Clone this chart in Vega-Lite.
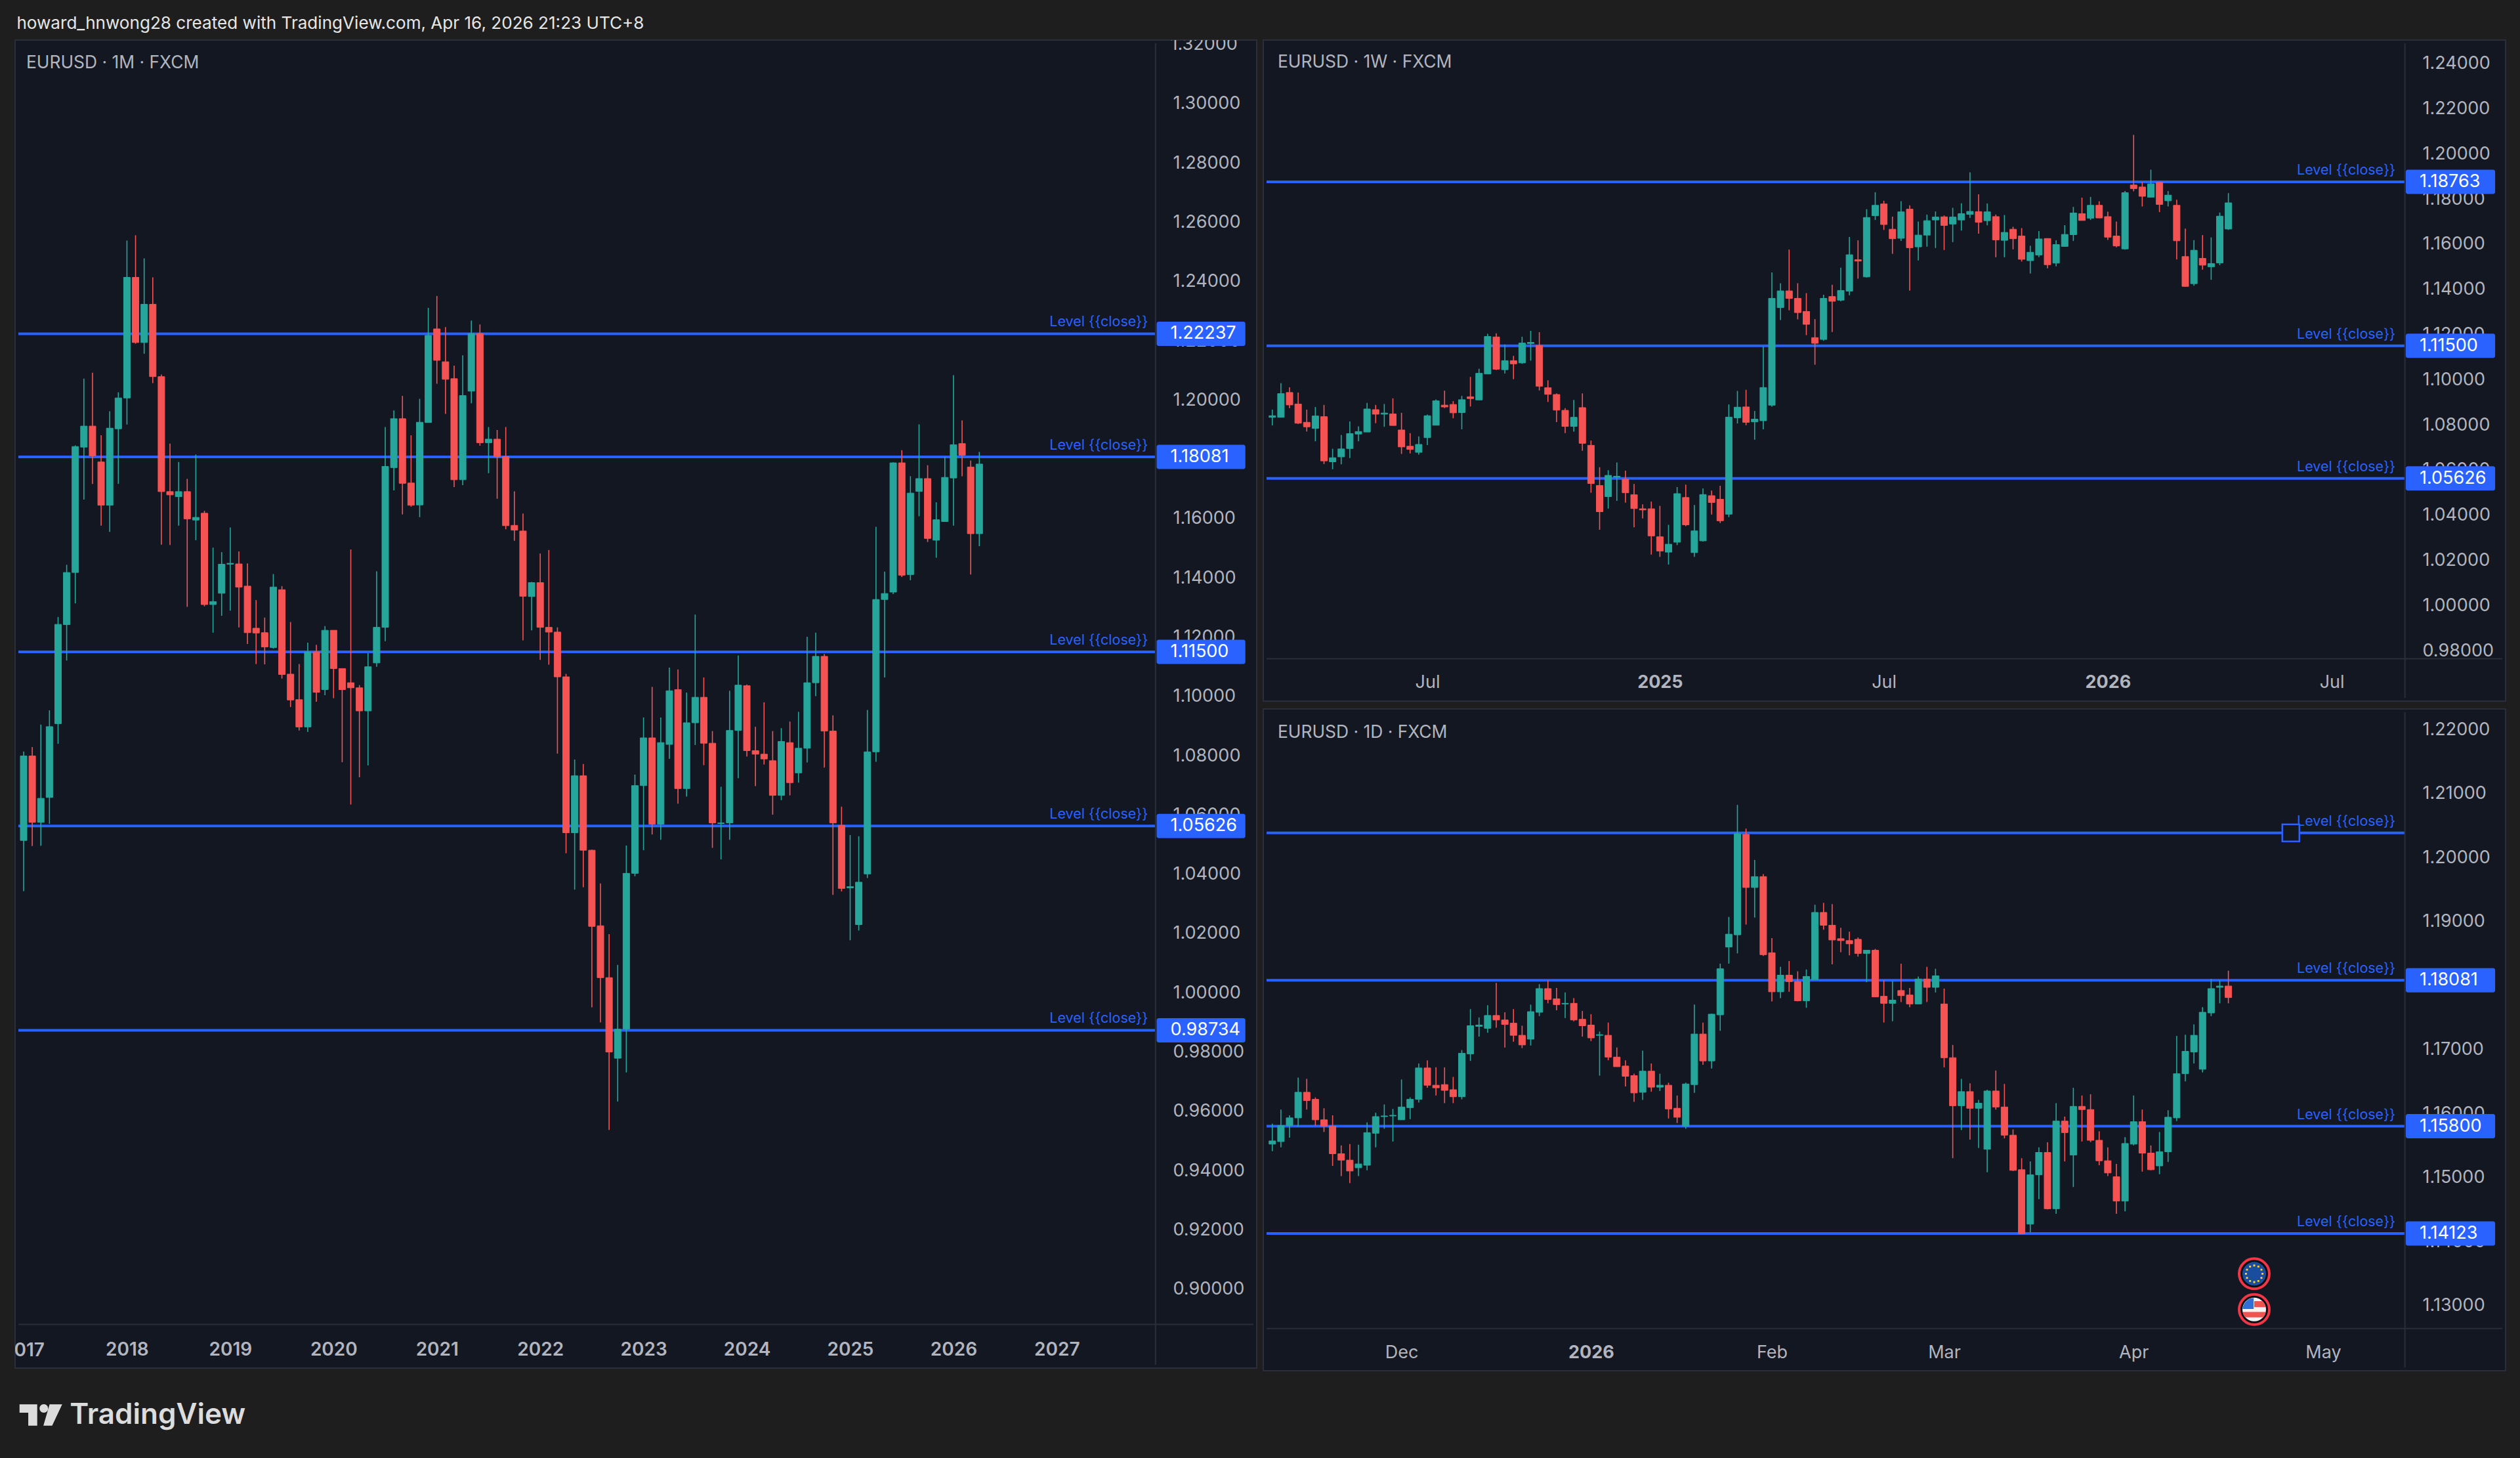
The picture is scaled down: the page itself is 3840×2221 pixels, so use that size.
{"$schema":"https://vega.github.io/schema/vega-lite/v6.json","background":"#1e1e1e","padding":{"left":22,"top":22,"right":22,"bottom":42},"bounds":"flush","spacing":10,
"config":{"view":{"fill":"#131722","stroke":"#2a2e39","strokeWidth":2},"axis":{"labelFont":"Inter","labelFontSize":27,"labelColor":"#b2b5be","domain":false,"ticks":false,"grid":false,"labelOverlap":false,"labelBound":false,"labelFlush":false}},
"datasets":{"one":[{}],
"lv1":[{"p":1.22237,"label":"Level {{close}}","tag":"1.22237"},{"p":1.18081,"label":"Level {{close}}","tag":"1.18081"},{"p":1.115,"label":"Level {{close}}","tag":"1.11500"},{"p":1.05626,"label":"Level {{close}}","tag":"1.05626"},{"p":0.98734,"label":"Level {{close}}","tag":"0.98734"}],
"lv2":[{"p":1.18763,"label":"Level {{close}}","tag":"1.18763"},{"p":1.115,"label":"Level {{close}}","tag":"1.11500"},{"p":1.05626,"label":"Level {{close}}","tag":"1.05626"}],
"lv3":[{"p":1.20384,"label":"Level {{close}}"},{"p":1.18081,"label":"Level {{close}}","tag":"1.18081"},{"p":1.158,"label":"Level {{close}}","tag":"1.15800"},{"p":1.14123,"label":"Level {{close}}","tag":"1.14123"}],
"m":[
{"i":0,"o":1.0514,"h":1.0814,"l":1.0343,"c":1.0799},{"i":1,"o":1.0799,"h":1.0829,"l":1.0495,"c":1.0575},{"i":2,"o":1.0575,"h":1.0905,"l":1.0496,"c":1.0656},{"i":3,"o":1.0659,"h":1.0953,"l":1.057,"c":1.0898},{"i":4,"o":1.0908,"h":1.1268,"l":1.084,"c":1.1243},{"i":5,"o":1.1242,"h":1.1444,"l":1.1121,"c":1.1418},{"i":6,"o":1.1418,"h":1.1847,"l":1.1314,"c":1.1843},{"i":7,"o":1.1841,"h":1.2072,"l":1.1664,"c":1.1912},{"i":8,"o":1.1912,"h":1.2092,"l":1.1717,"c":1.1812},{"i":9,"o":1.1791,"h":1.1881,"l":1.1576,"c":1.1645},{"i":10,"o":1.1645,"h":1.1962,"l":1.1555,"c":1.1905},{"i":11,"o":1.1903,"h":1.2026,"l":1.1717,"c":1.2007},
{"i":12,"o":1.2007,"h":1.2538,"l":1.1917,"c":1.2414},{"i":13,"o":1.2414,"h":1.2556,"l":1.219,"c":1.2194},{"i":14,"o":1.2194,"h":1.2478,"l":1.2156,"c":1.2323},{"i":15,"o":1.2323,"h":1.2414,"l":1.2057,"c":1.2079},{"i":16,"o":1.2079,"h":1.2086,"l":1.1512,"c":1.1691},{"i":17,"o":1.1691,"h":1.1853,"l":1.1511,"c":1.168},{"i":18,"o":1.1674,"h":1.1791,"l":1.1576,"c":1.1691},{"i":19,"o":1.1691,"h":1.1734,"l":1.1302,"c":1.1599},{"i":20,"o":1.1595,"h":1.1816,"l":1.1527,"c":1.1604},{"i":21,"o":1.1618,"h":1.1626,"l":1.1304,"c":1.131},{"i":22,"o":1.131,"h":1.1502,"l":1.1215,"c":1.132},{"i":23,"o":1.1348,"h":1.1487,"l":1.1272,"c":1.1446},
{"i":24,"o":1.1446,"h":1.157,"l":1.1289,"c":1.1449},{"i":25,"o":1.1447,"h":1.1489,"l":1.1233,"c":1.1369},{"i":26,"o":1.1372,"h":1.1449,"l":1.1177,"c":1.1215},{"i":27,"o":1.123,"h":1.1325,"l":1.1109,"c":1.1214},{"i":28,"o":1.1215,"h":1.1266,"l":1.1108,"c":1.1167},{"i":29,"o":1.1165,"h":1.1413,"l":1.1161,"c":1.1369},{"i":30,"o":1.136,"h":1.1372,"l":1.106,"c":1.1074},{"i":31,"o":1.1075,"h":1.1251,"l":1.0964,"c":1.0988},{"i":32,"o":1.0989,"h":1.1109,"l":1.0885,"c":1.0897},{"i":33,"o":1.0897,"h":1.1181,"l":1.088,"c":1.115},{"i":34,"o":1.115,"h":1.1174,"l":1.0982,"c":1.1014},{"i":35,"o":1.1023,"h":1.1237,"l":1.1004,"c":1.1223},
{"i":36,"o":1.1223,"h":1.1223,"l":1.0994,"c":1.1094},{"i":37,"o":1.1094,"h":1.1094,"l":1.0778,"c":1.1023},{"i":38,"o":1.1046,"h":1.1496,"l":1.0635,"c":1.1029},{"i":39,"o":1.1029,"h":1.1038,"l":1.0727,"c":1.0951},{"i":40,"o":1.0951,"h":1.1146,"l":1.0767,"c":1.11},{"i":41,"o":1.1113,"h":1.1422,"l":1.11,"c":1.1233},{"i":42,"o":1.1233,"h":1.1909,"l":1.1186,"c":1.1776},{"i":43,"o":1.1772,"h":1.1965,"l":1.1695,"c":1.1937},{"i":44,"o":1.1937,"h":1.2014,"l":1.1614,"c":1.1719},{"i":45,"o":1.172,"h":1.1881,"l":1.164,"c":1.1645},{"i":46,"o":1.1646,"h":1.2004,"l":1.1605,"c":1.1925},{"i":47,"o":1.1924,"h":1.2311,"l":1.1924,"c":1.2218},
{"i":48,"o":1.224,"h":1.2351,"l":1.2055,"c":1.2134},{"i":49,"o":1.2129,"h":1.2246,"l":1.1953,"c":1.207},{"i":50,"o":1.2072,"h":1.2116,"l":1.1706,"c":1.1731},{"i":51,"o":1.1731,"h":1.2151,"l":1.1713,"c":1.2015},{"i":52,"o":1.203,"h":1.2268,"l":1.1989,"c":1.2224},{"i":53,"o":1.2224,"h":1.2255,"l":1.1846,"c":1.1856},{"i":54,"o":1.1856,"h":1.1909,"l":1.1753,"c":1.1868},{"i":55,"o":1.1868,"h":1.1899,"l":1.1667,"c":1.1809},{"i":56,"o":1.1809,"h":1.1909,"l":1.1564,"c":1.1576},{"i":57,"o":1.1577,"h":1.1692,"l":1.1525,"c":1.1561},{"i":58,"o":1.1558,"h":1.1617,"l":1.1189,"c":1.1338},{"i":59,"o":1.1337,"h":1.1386,"l":1.1223,"c":1.1384},
{"i":60,"o":1.1384,"h":1.1482,"l":1.1123,"c":1.1233},{"i":61,"o":1.1233,"h":1.1494,"l":1.1107,"c":1.1217},{"i":62,"o":1.1217,"h":1.1233,"l":1.0807,"c":1.1066},{"i":63,"o":1.1066,"h":1.1076,"l":1.0471,"c":1.054},{"i":64,"o":1.054,"h":1.0787,"l":1.0348,"c":1.0732},{"i":65,"o":1.0732,"h":1.0772,"l":1.0356,"c":1.0481},{"i":66,"o":1.0481,"h":1.0483,"l":0.9951,"c":1.0224},{"i":67,"o":1.0226,"h":1.0369,"l":0.99,"c":1.0051},{"i":68,"o":1.0051,"h":1.0198,"l":0.9537,"c":0.98},{"i":69,"o":0.9779,"h":1.0094,"l":0.9633,"c":0.9877},{"i":70,"o":0.9877,"h":1.0497,"l":0.9731,"c":1.0403},{"i":71,"o":1.0403,"h":1.0736,"l":1.0393,"c":1.0699},
{"i":72,"o":1.0699,"h":1.0929,"l":1.0481,"c":1.086},{"i":73,"o":1.086,"h":1.1032,"l":1.0534,"c":1.0569},{"i":74,"o":1.0569,"h":1.0929,"l":1.0516,"c":1.0844},{"i":75,"o":1.0838,"h":1.1097,"l":1.0789,"c":1.1019},{"i":76,"o":1.1023,"h":1.1091,"l":1.0638,"c":1.0689},{"i":77,"o":1.0689,"h":1.1013,"l":1.0662,"c":1.0911},{"i":78,"o":1.0911,"h":1.1276,"l":1.0836,"c":1.0997},{"i":79,"o":1.0997,"h":1.1064,"l":1.0768,"c":1.0842},{"i":80,"o":1.0842,"h":1.0883,"l":1.0489,"c":1.0573},{"i":81,"o":1.0571,"h":1.0695,"l":1.045,"c":1.0573},{"i":82,"o":1.0573,"h":1.1019,"l":1.0516,"c":1.0885},{"i":83,"o":1.0885,"h":1.1138,"l":1.0724,"c":1.1038},
{"i":84,"o":1.1036,"h":1.104,"l":1.0797,"c":1.0817},{"i":85,"o":1.0817,"h":1.0897,"l":1.0697,"c":1.0805},{"i":86,"o":1.0805,"h":1.098,"l":1.077,"c":1.0789},{"i":87,"o":1.0783,"h":1.0883,"l":1.0601,"c":1.0666},{"i":88,"o":1.0666,"h":1.0893,"l":1.065,"c":1.0848},{"i":89,"o":1.0844,"h":1.0915,"l":1.0666,"c":1.0709},{"i":90,"o":1.0742,"h":1.0948,"l":1.0709,"c":1.0825},{"i":91,"o":1.0825,"h":1.1201,"l":1.0777,"c":1.1046},{"i":92,"o":1.1046,"h":1.1215,"l":1.1001,"c":1.1135},{"i":93,"o":1.1135,"h":1.1143,"l":1.076,"c":1.0883},{"i":94,"o":1.0883,"h":1.0936,"l":1.033,"c":1.0573},{"i":95,"o":1.0565,"h":1.0628,"l":1.0342,"c":1.0352},
{"i":96,"o":1.0354,"h":1.0532,"l":1.0177,"c":1.0358},{"i":97,"o":1.023,"h":1.0528,"l":1.021,"c":1.0373},{"i":98,"o":1.0401,"h":1.0954,"l":1.0387,"c":1.0813},{"i":99,"o":1.0813,"h":1.1572,"l":1.0779,"c":1.1327},{"i":100,"o":1.1327,"h":1.1421,"l":1.1064,"c":1.1347},{"i":101,"o":1.1352,"h":1.179,"l":1.1345,"c":1.1788},{"i":102,"o":1.1788,"h":1.1831,"l":1.1403,"c":1.1409},{"i":103,"o":1.1411,"h":1.1743,"l":1.1392,"c":1.1686},{"i":104,"o":1.1692,"h":1.1918,"l":1.1608,"c":1.1735},{"i":105,"o":1.1735,"h":1.178,"l":1.1521,"c":1.1533},{"i":106,"o":1.1527,"h":1.1655,"l":1.1468,"c":1.1596},{"i":107,"o":1.159,"h":1.1808,"l":1.159,"c":1.1739},
{"i":108,"o":1.1737,"h":1.2084,"l":1.1576,"c":1.1849},{"i":109,"o":1.1853,"h":1.1931,"l":1.1743,"c":1.1814},{"i":110,"o":1.1774,"h":1.1796,"l":1.1411,"c":1.1549},{"i":111,"o":1.1549,"h":1.1825,"l":1.1507,"c":1.1784}],
"w":[
{"i":0,"o":1.0833,"h":1.0867,"l":1.0797,"c":1.084},{"i":1,"o":1.0833,"h":1.0984,"l":1.0833,"c":1.0938},{"i":2,"o":1.0943,"h":1.0966,"l":1.0874,"c":1.0888},{"i":3,"o":1.0892,"h":1.0943,"l":1.0804,"c":1.0807},{"i":4,"o":1.0811,"h":1.0867,"l":1.077,"c":1.0791},{"i":5,"o":1.0784,"h":1.0879,"l":1.0727,"c":1.0839},{"i":6,"o":1.0836,"h":1.0888,"l":1.0626,"c":1.064},{"i":7,"o":1.0636,"h":1.0694,"l":1.0603,"c":1.0654},{"i":8,"o":1.0658,"h":1.0755,"l":1.0625,"c":1.0693},{"i":9,"o":1.0695,"h":1.0815,"l":1.0653,"c":1.0761},{"i":10,"o":1.0759,"h":1.0793,"l":1.0727,"c":1.077},{"i":11,"o":1.0768,"h":1.0897,"l":1.0768,"c":1.087},{"i":12,"o":1.0867,"h":1.0888,"l":1.0807,"c":1.0847},{"i":13,"o":1.0847,"h":1.0892,"l":1.0791,"c":1.0852},{"i":14,"o":1.0848,"h":1.0917,"l":1.0797,"c":1.0797},{"i":15,"o":1.0777,"h":1.0853,"l":1.0671,"c":1.0702},{"i":16,"o":1.0705,"h":1.0763,"l":1.0673,"c":1.0691},{"i":17,"o":1.0678,"h":1.0749,"l":1.0668,"c":1.0713},{"i":18,"o":1.0743,"h":1.0845,"l":1.071,"c":1.084},{"i":19,"o":1.0798,"h":1.0912,"l":1.0798,"c":1.0906},
{"i":20,"o":1.0887,"h":1.0951,"l":1.0874,"c":1.0879},{"i":21,"o":1.089,"h":1.0905,"l":1.0829,"c":1.0853},{"i":22,"o":1.0854,"h":1.0928,"l":1.078,"c":1.0911},{"i":23,"o":1.0924,"h":1.1012,"l":1.0881,"c":1.0916},{"i":24,"o":1.091,"h":1.1048,"l":1.091,"c":1.1028},{"i":25,"o":1.1025,"h":1.1203,"l":1.1024,"c":1.1191},{"i":26,"o":1.1189,"h":1.1205,"l":1.1042,"c":1.1046},{"i":27,"o":1.1044,"h":1.1156,"l":1.1027,"c":1.1084},{"i":28,"o":1.1084,"h":1.1105,"l":1.1002,"c":1.107},{"i":29,"o":1.1074,"h":1.119,"l":1.107,"c":1.1162},{"i":30,"o":1.116,"h":1.1216,"l":1.1084,"c":1.1165},{"i":31,"o":1.1151,"h":1.121,"l":1.0952,"c":1.0971},{"i":32,"o":1.0964,"h":1.0997,"l":1.0901,"c":1.0935},{"i":33,"o":1.0934,"h":1.0939,"l":1.0812,"c":1.0865},{"i":34,"o":1.0864,"h":1.0874,"l":1.0763,"c":1.0793},{"i":35,"o":1.0793,"h":1.091,"l":1.077,"c":1.0833},{"i":36,"o":1.0876,"h":1.0939,"l":1.0685,"c":1.0718},{"i":37,"o":1.0709,"h":1.073,"l":1.0499,"c":1.054},{"i":38,"o":1.0531,"h":1.0612,"l":1.0335,"c":1.0415},{"i":39,"o":1.0482,"h":1.0599,"l":1.0429,"c":1.0576},
{"i":40,"o":1.0568,"h":1.0633,"l":1.0463,"c":1.0572},{"i":41,"o":1.0559,"h":1.0597,"l":1.0455,"c":1.0499},{"i":42,"o":1.049,"h":1.0538,"l":1.0346,"c":1.0429},{"i":43,"o":1.0428,"h":1.0448,"l":1.0385,"c":1.0423},{"i":44,"o":1.0428,"h":1.046,"l":1.0225,"c":1.0308},{"i":45,"o":1.0304,"h":1.0441,"l":1.0215,"c":1.0241},{"i":46,"o":1.0236,"h":1.0357,"l":1.0181,"c":1.0271},{"i":47,"o":1.028,"h":1.0524,"l":1.0267,"c":1.0495},{"i":48,"o":1.0478,"h":1.0535,"l":1.0351,"c":1.0357},{"i":49,"o":1.0234,"h":1.0445,"l":1.0215,"c":1.033},{"i":50,"o":1.0286,"h":1.0518,"l":1.0283,"c":1.0491},{"i":51,"o":1.0486,"h":1.0509,"l":1.0403,"c":1.0456},{"i":52,"o":1.047,"h":1.053,"l":1.0365,"c":1.0375},{"i":53,"o":1.0404,"h":1.089,"l":1.0391,"c":1.0834},{"i":54,"o":1.0831,"h":1.095,"l":1.0806,"c":1.0878},{"i":55,"o":1.0879,"h":1.0955,"l":1.0798,"c":1.0811},{"i":56,"o":1.0813,"h":1.0861,"l":1.0734,"c":1.0825},{"i":57,"o":1.0818,"h":1.1147,"l":1.078,"c":1.0965},{"i":58,"o":1.0887,"h":1.1475,"l":1.088,"c":1.136},{"i":59,"o":1.1319,"h":1.1427,"l":1.1264,"c":1.1393},
{"i":60,"o":1.1393,"h":1.1576,"l":1.1307,"c":1.136},{"i":61,"o":1.136,"h":1.1427,"l":1.1267,"c":1.1297},{"i":62,"o":1.1302,"h":1.1383,"l":1.1197,"c":1.1245},{"i":63,"o":1.1186,"h":1.1268,"l":1.1066,"c":1.1161},{"i":64,"o":1.1178,"h":1.1376,"l":1.1172,"c":1.136},{"i":65,"o":1.1368,"h":1.142,"l":1.1211,"c":1.1347},{"i":66,"o":1.1352,"h":1.1496,"l":1.1347,"c":1.1395},{"i":67,"o":1.1392,"h":1.1632,"l":1.1374,"c":1.1553},{"i":68,"o":1.1531,"h":1.1617,"l":1.1447,"c":1.1525},{"i":69,"o":1.1455,"h":1.1755,"l":1.1452,"c":1.1718},{"i":70,"o":1.1726,"h":1.183,"l":1.1707,"c":1.1772},{"i":71,"o":1.1778,"h":1.1792,"l":1.1663,"c":1.1687},{"i":72,"o":1.1666,"h":1.1722,"l":1.1557,"c":1.1624},{"i":73,"o":1.1626,"h":1.179,"l":1.1614,"c":1.1743},{"i":74,"o":1.1755,"h":1.1772,"l":1.1394,"c":1.1584},{"i":75,"o":1.1588,"h":1.17,"l":1.1528,"c":1.164},{"i":76,"o":1.164,"h":1.1731,"l":1.1589,"c":1.1704},{"i":77,"o":1.1707,"h":1.1745,"l":1.1583,"c":1.172},{"i":78,"o":1.1721,"h":1.1727,"l":1.1574,"c":1.1683},{"i":79,"o":1.1689,"h":1.1761,"l":1.1609,"c":1.172},
{"i":80,"o":1.1707,"h":1.1781,"l":1.166,"c":1.1735},{"i":81,"o":1.1732,"h":1.1918,"l":1.1716,"c":1.1745},{"i":82,"o":1.1744,"h":1.1821,"l":1.1646,"c":1.1697},{"i":83,"o":1.1704,"h":1.178,"l":1.1683,"c":1.1743},{"i":84,"o":1.1722,"h":1.1731,"l":1.1542,"c":1.1619},{"i":85,"o":1.1617,"h":1.1729,"l":1.1542,"c":1.1652},{"i":86,"o":1.1666,"h":1.1677,"l":1.1577,"c":1.1624},{"i":87,"o":1.1636,"h":1.1671,"l":1.1523,"c":1.1533},{"i":88,"o":1.1527,"h":1.1593,"l":1.147,"c":1.1564},{"i":89,"o":1.1552,"h":1.1658,"l":1.1542,"c":1.1623},{"i":90,"o":1.1625,"h":1.1625,"l":1.1493,"c":1.1509},{"i":91,"o":1.1516,"h":1.1617,"l":1.1502,"c":1.1598},{"i":92,"o":1.159,"h":1.1684,"l":1.1589,"c":1.1643},{"i":93,"o":1.1642,"h":1.1765,"l":1.1614,"c":1.1738},{"i":94,"o":1.1735,"h":1.1806,"l":1.1704,"c":1.1705},{"i":95,"o":1.1715,"h":1.1809,"l":1.1707,"c":1.1772},{"i":96,"o":1.1772,"h":1.179,"l":1.1715,"c":1.1716},{"i":97,"o":1.1722,"h":1.1744,"l":1.1619,"c":1.1631},{"i":98,"o":1.1636,"h":1.17,"l":1.1586,"c":1.1592},{"i":99,"o":1.1579,"h":1.1835,"l":1.1576,"c":1.1828},
{"i":100,"o":1.1862,"h":1.2084,"l":1.1834,"c":1.1846},{"i":101,"o":1.1853,"h":1.1876,"l":1.1767,"c":1.1812},{"i":102,"o":1.1808,"h":1.193,"l":1.1808,"c":1.1867},{"i":103,"o":1.1874,"h":1.1877,"l":1.1742,"c":1.1776},{"i":104,"o":1.1792,"h":1.1835,"l":1.1767,"c":1.1817},{"i":105,"o":1.1772,"h":1.1797,"l":1.1532,"c":1.1615},{"i":106,"o":1.1545,"h":1.1669,"l":1.1411,"c":1.1413},{"i":107,"o":1.1425,"h":1.1618,"l":1.1416,"c":1.1573},{"i":108,"o":1.1537,"h":1.164,"l":1.1487,"c":1.1507},{"i":109,"o":1.15,"h":1.163,"l":1.1442,"c":1.1514},{"i":110,"o":1.1517,"h":1.174,"l":1.1507,"c":1.1724},{"i":111,"o":1.1667,"h":1.1826,"l":1.1663,"c":1.1783}],
"d":[
{"i":0,"o":1.1552,"h":1.1584,"l":1.1541,"c":1.1557},{"i":1,"o":1.1556,"h":1.1606,"l":1.1547,"c":1.1581},{"i":2,"o":1.1581,"h":1.1597,"l":1.1562,"c":1.1593},{"i":3,"o":1.1593,"h":1.1656,"l":1.1579,"c":1.1633},{"i":4,"o":1.1633,"h":1.1654,"l":1.1606,"c":1.162},{"i":5,"o":1.1622,"h":1.1625,"l":1.1581,"c":1.159},{"i":6,"o":1.159,"h":1.1608,"l":1.1571,"c":1.158},{"i":7,"o":1.158,"h":1.1597,"l":1.1518,"c":1.1537},{"i":8,"o":1.1537,"h":1.155,"l":1.1502,"c":1.1527},{"i":9,"o":1.1527,"h":1.1552,"l":1.1491,"c":1.151},{"i":10,"o":1.1515,"h":1.1551,"l":1.1502,"c":1.1521},{"i":11,"o":1.1519,"h":1.1586,"l":1.1511,"c":1.157},{"i":12,"o":1.1569,"h":1.1601,"l":1.1547,"c":1.1595},{"i":13,"o":1.1595,"h":1.1614,"l":1.1576,"c":1.1596},{"i":14,"o":1.1596,"h":1.1607,"l":1.1556,"c":1.1597},{"i":15,"o":1.159,"h":1.1653,"l":1.159,"c":1.161},{"i":16,"o":1.1609,"h":1.1625,"l":1.1591,"c":1.1622},{"i":17,"o":1.1622,"h":1.1678,"l":1.1617,"c":1.1671},{"i":18,"o":1.1671,"h":1.1683,"l":1.164,"c":1.1644},{"i":19,"o":1.1644,"h":1.1672,"l":1.1628,"c":1.164},
{"i":20,"o":1.1645,"h":1.1672,"l":1.1616,"c":1.1636},{"i":21,"o":1.1637,"h":1.1657,"l":1.1616,"c":1.1626},{"i":22,"o":1.1626,"h":1.1699,"l":1.1622,"c":1.1694},{"i":23,"o":1.1693,"h":1.1763,"l":1.1682,"c":1.1737},{"i":24,"o":1.1736,"h":1.175,"l":1.172,"c":1.1738},{"i":25,"o":1.1733,"h":1.1769,"l":1.1726,"c":1.1753},{"i":26,"o":1.1753,"h":1.1804,"l":1.1734,"c":1.1746},{"i":27,"o":1.1746,"h":1.1758,"l":1.1703,"c":1.1739},{"i":28,"o":1.1741,"h":1.1763,"l":1.1712,"c":1.1722},{"i":29,"o":1.1722,"h":1.1737,"l":1.1702,"c":1.1707},{"i":30,"o":1.1716,"h":1.177,"l":1.1706,"c":1.1759},{"i":31,"o":1.1758,"h":1.1802,"l":1.1752,"c":1.1795},{"i":32,"o":1.1795,"h":1.1808,"l":1.1772,"c":1.1778},{"i":33,"o":1.1779,"h":1.1796,"l":1.1761,"c":1.177},{"i":34,"o":1.1771,"h":1.1789,"l":1.1749,"c":1.1772},{"i":35,"o":1.1772,"h":1.178,"l":1.1744,"c":1.1746},{"i":36,"o":1.1747,"h":1.176,"l":1.172,"c":1.1737},{"i":37,"o":1.1738,"h":1.1755,"l":1.1713,"c":1.1718},{"i":38,"o":1.1722,"h":1.1728,"l":1.1659,"c":1.1723},{"i":39,"o":1.1722,"h":1.1742,"l":1.1683,"c":1.1688},
{"i":40,"o":1.1688,"h":1.1703,"l":1.1673,"c":1.1673},{"i":41,"o":1.1674,"h":1.1683,"l":1.1642,"c":1.1658},{"i":42,"o":1.1659,"h":1.1662,"l":1.1618,"c":1.1632},{"i":43,"o":1.1633,"h":1.1698,"l":1.1621,"c":1.1666},{"i":44,"o":1.1666,"h":1.1678,"l":1.1634,"c":1.1641},{"i":45,"o":1.1641,"h":1.1662,"l":1.1635,"c":1.1644},{"i":46,"o":1.1644,"h":1.1648,"l":1.1592,"c":1.1607},{"i":47,"o":1.1608,"h":1.1628,"l":1.1585,"c":1.1594},{"i":48,"o":1.158,"h":1.1648,"l":1.1576,"c":1.1646},{"i":49,"o":1.1645,"h":1.177,"l":1.1632,"c":1.1724},{"i":50,"o":1.1724,"h":1.1742,"l":1.1676,"c":1.1682},{"i":51,"o":1.1682,"h":1.1756,"l":1.167,"c":1.1755},{"i":52,"o":1.1754,"h":1.1834,"l":1.1729,"c":1.1826},{"i":53,"o":1.186,"h":1.1907,"l":1.1834,"c":1.188},{"i":54,"o":1.1879,"h":1.2082,"l":1.185,"c":1.2037},{"i":55,"o":1.2036,"h":1.2045,"l":1.1895,"c":1.1953},{"i":56,"o":1.1953,"h":1.1996,"l":1.1906,"c":1.197},{"i":57,"o":1.197,"h":1.1974,"l":1.1846,"c":1.1848},{"i":58,"o":1.1851,"h":1.1874,"l":1.1775,"c":1.179},{"i":59,"o":1.179,"h":1.1829,"l":1.178,"c":1.1816},
{"i":60,"o":1.1816,"h":1.1838,"l":1.179,"c":1.1806},{"i":61,"o":1.1806,"h":1.1822,"l":1.1775,"c":1.1776},{"i":62,"o":1.1776,"h":1.1825,"l":1.1765,"c":1.1814},{"i":63,"o":1.1809,"h":1.1926,"l":1.1809,"c":1.1914},{"i":64,"o":1.1914,"h":1.1929,"l":1.1887,"c":1.1894},{"i":65,"o":1.1894,"h":1.1927,"l":1.1833,"c":1.1871},{"i":66,"o":1.1873,"h":1.189,"l":1.1852,"c":1.187},{"i":67,"o":1.187,"h":1.1884,"l":1.1847,"c":1.1865},{"i":68,"o":1.1872,"h":1.1875,"l":1.1845,"c":1.185},{"i":69,"o":1.185,"h":1.1855,"l":1.1805,"c":1.1855},{"i":70,"o":1.1855,"h":1.1857,"l":1.1782,"c":1.1782},{"i":71,"o":1.1783,"h":1.1808,"l":1.1742,"c":1.1772},{"i":72,"o":1.1772,"h":1.1807,"l":1.1744,"c":1.1777},{"i":73,"o":1.1792,"h":1.1834,"l":1.1774,"c":1.1784},{"i":74,"o":1.1785,"h":1.1796,"l":1.1766,"c":1.1771},{"i":75,"o":1.1771,"h":1.1814,"l":1.1771,"c":1.181},{"i":76,"o":1.181,"h":1.1829,"l":1.1774,"c":1.1797},{"i":77,"o":1.1797,"h":1.1826,"l":1.1789,"c":1.1815},{"i":78,"o":1.1771,"h":1.1795,"l":1.1672,"c":1.1687},{"i":79,"o":1.1687,"h":1.1707,"l":1.153,"c":1.1612},
{"i":80,"o":1.1612,"h":1.1654,"l":1.1574,"c":1.1634},{"i":81,"o":1.1634,"h":1.1647,"l":1.1559,"c":1.1608},{"i":82,"o":1.1608,"h":1.1621,"l":1.1546,"c":1.1616},{"i":83,"o":1.1544,"h":1.1637,"l":1.1508,"c":1.1635},{"i":84,"o":1.1635,"h":1.1667,"l":1.1606,"c":1.161},{"i":85,"o":1.161,"h":1.1646,"l":1.1561,"c":1.1566},{"i":86,"o":1.1566,"h":1.1575,"l":1.151,"c":1.1511},{"i":87,"o":1.1512,"h":1.153,"l":1.1411,"c":1.1412},{"i":88,"o":1.1427,"h":1.1525,"l":1.1414,"c":1.1504},{"i":89,"o":1.1504,"h":1.1547,"l":1.1466,"c":1.1539},{"i":90,"o":1.1539,"h":1.1555,"l":1.145,"c":1.1451},{"i":91,"o":1.1451,"h":1.1616,"l":1.1443,"c":1.1588},{"i":92,"o":1.1588,"h":1.1595,"l":1.1525,"c":1.157},{"i":93,"o":1.1535,"h":1.164,"l":1.1485,"c":1.1611},{"i":94,"o":1.1611,"h":1.1628,"l":1.1556,"c":1.1606},{"i":95,"o":1.1606,"h":1.163,"l":1.1555,"c":1.1558},{"i":96,"o":1.1558,"h":1.1572,"l":1.1519,"c":1.1526},{"i":97,"o":1.1526,"h":1.1547,"l":1.1502,"c":1.1507},{"i":98,"o":1.1501,"h":1.1521,"l":1.1443,"c":1.1463},{"i":99,"o":1.1463,"h":1.1563,"l":1.1447,"c":1.1553},
{"i":100,"o":1.1552,"h":1.1628,"l":1.155,"c":1.1587},{"i":101,"o":1.1587,"h":1.1606,"l":1.1509,"c":1.1538},{"i":102,"o":1.1538,"h":1.155,"l":1.1511,"c":1.1512},{"i":103,"o":1.1518,"h":1.1571,"l":1.1505,"c":1.154},{"i":104,"o":1.154,"h":1.1605,"l":1.1524,"c":1.1594},{"i":105,"o":1.1593,"h":1.1721,"l":1.1588,"c":1.1662},{"i":106,"o":1.1662,"h":1.1723,"l":1.165,"c":1.1697},{"i":107,"o":1.1696,"h":1.1739,"l":1.1678,"c":1.1722},{"i":108,"o":1.1669,"h":1.1766,"l":1.1664,"c":1.1758},{"i":109,"o":1.1757,"h":1.181,"l":1.1752,"c":1.1795},{"i":110,"o":1.1797,"h":1.1808,"l":1.1772,"c":1.1799},{"i":111,"o":1.1799,"h":1.1823,"l":1.1772,"c":1.1781}]},
"hconcat":[
{"width":1892,"height":2023,
"encoding":{"x":{"type":"quantitative","scale":{"domain":[-0.61,142.84],"nice":false,"zero":false},"axis":{"title":null,"orient":"bottom","offset":-62,"labelPadding":20,"labelFontSize":28,"labelFontWeight":600,"values":[12,24,36,48,60,72,84,96,108,120],"labelExpr":"''+(2017+datum.value/12)"}},"y":{"type":"quantitative","scale":{"domain":[0.87447,1.32036],"nice":false,"zero":false},"axis":{"title":null,"orient":"right","offset":-150,"labelPadding":22,"format":".5f","values":[1.3,1.28,1.26,1.24,1.22,1.2,1.18,1.16,1.14,1.12,1.1,1.08,1.06,1.04,1.02,1,0.98,0.96,0.94,0.92,0.9]}}},
"layer":[
{"data":{"name":"lv1"},"mark":{"type":"rule","color":"#2962ff","strokeWidth":4},"encoding":{"x":{"datum":-0.61},"x2":{"datum":131.47},"y":{"field":"p"}}},
{"data":{"name":"one"},"mark":{"type":"rule","color":"#2a2e39","strokeWidth":2},"encoding":{"x":{"datum":131.47},"y":{"datum":1.32036},"y2":{"datum":0.87447}}},
{"data":{"name":"one"},"mark":{"type":"rule","color":"#2a2e39","strokeWidth":2},"encoding":{"x":{"datum":-0.61},"x2":{"datum":142.84},"y":{"datum":0.8881}}},
{"data":{"name":"m"},"mark":{"type":"rule","strokeWidth":1.6},"encoding":{"x":{"field":"i"},"y":{"field":"l"},"y2":{"field":"h"},"color":{"condition":{"test":"datum.c>=datum.o","value":"#26a69a"},"value":"#f55353"}}},
{"data":{"name":"m"},"mark":{"type":"bar","size":10,"strokeWidth":1,"orient":"vertical"},"encoding":{"x":{"field":"i"},"y":{"field":"o"},"y2":{"field":"c"},"color":{"condition":{"test":"datum.c>=datum.o","value":"#26a69a"},"value":"#f55353"},"stroke":{"condition":{"test":"datum.c>=datum.o","value":"#26a69a"},"value":"#f55353"}}},
{"data":{"name":"lv1"},"mark":{"type":"text","align":"right","baseline":"middle","dy":-17,"font":"Inter","fontSize":21.5,"color":"#2962ff"},"encoding":{"x":{"datum":130.6},"y":{"field":"p"},"text":{"field":"label"}}},
{"data":{"name":"lv1"},"mark":{"type":"bar","orient":"horizontal","size":37,"color":"#2962ff","cornerRadiusEnd":3},"encoding":{"x":{"datum":131.6},"x2":{"datum":141.9},"y":{"field":"p"}}},
{"data":{"name":"lv1"},"mark":{"type":"text","align":"left","baseline":"middle","font":"Inter","fontSize":27,"color":"#ffffff"},"encoding":{"x":{"datum":133.2},"y":{"field":"p"},"text":{"field":"tag"}}},
{"data":{"name":"one"},"mark":{"type":"text","clip":true,"align":"left","baseline":"middle","font":"Inter","fontSize":27,"color":"#b2b5be","text":"1.32000"},"encoding":{"x":{"datum":133.2},"y":{"datum":1.32}}},
{"data":{"name":"one"},"mark":{"type":"text","clip":true,"align":"center","baseline":"middle","font":"Inter","fontSize":28,"fontWeight":600,"color":"#b2b5be","text":"2017"},"encoding":{"x":{"datum":0},"y":{"datum":0.87911}}},
{"data":{"name":"one"},"mark":{"type":"text","align":"left","baseline":"middle","font":"Inter","fontSize":26.4,"color":"#b2b5be","text":"EURUSD · 1M · FXCM"},"encoding":{"x":{"datum":0.3},"y":{"datum":1.31381}}},
{"data":{"name":"one"},"mark":{"type":"text","align":"left","baseline":"middle","font":"Inter","fontSize":26.1,"color":"#e6e6e6","text":"howard_hnwong28 created with TradingView.com, Apr 16, 2026 21:23 UTC+8"},"encoding":{"x":{"datum":-0.81},"y":{"datum":1.32698}}},
{"data":{"name":"one"},"mark":{"type":"text","align":"left","baseline":"middle","font":"Inter","fontSize":44,"fontWeight":600,"color":"#dcdcdc","text":"TradingView"},"encoding":{"x":{"datum":5.35},"y":{"datum":0.85751}}},
{"data":{"name":"one"},"mark":{"type":"point","filled":true,"opacity":1,"color":"#dcdcdc","size":4225,"shape":"M-1 -0.5L-0.17 -0.5L-0.17 0.5L-0.59 0.5L-0.59 -0.11L-1 -0.11ZM-0.06 -0.31A0.2 0.2 0 1 1 0.34 -0.31A0.2 0.2 0 1 1 -0.06 -0.31ZM0.41 -0.5L1 -0.5L0.53 0.5L0.12 0.5Z"},"encoding":{"x":{"datum":2.0},"y":{"datum":0.85751}}}
]},
{"bounds":"flush","spacing":12,"vconcat":[
{"width":1893,"height":1007,
"encoding":{"x":{"type":"quantitative","scale":{"domain":[-0.667,142.8],"nice":false,"zero":false},"axis":{"title":null,"orient":"bottom","offset":-60,"labelPadding":18,"labelFontWeight":{"condition":{"test":"datum.value==45 || datum.value==97","value":700},"value":400},"values":[18,45,71,97,123],"labelExpr":"datum.value==45?'2025':datum.value==97?'2026':'Jul'"}},"y":{"type":"quantitative","scale":{"domain":[0.95908,1.24894],"nice":false,"zero":false},"axis":{"title":null,"orient":"right","offset":-149,"labelPadding":22,"format":".5f","values":[1.24,1.22,1.2,1.18,1.16,1.14,1.12,1.1,1.08,1.06,1.04,1.02,1,0.98]}}},
"layer":[
{"data":{"name":"lv2"},"mark":{"type":"rule","color":"#2962ff","strokeWidth":4},"encoding":{"x":{"datum":-0.667},"x2":{"datum":131.5},"y":{"field":"p"}}},
{"data":{"name":"one"},"mark":{"type":"rule","color":"#2a2e39","strokeWidth":2},"encoding":{"x":{"datum":131.5},"y":{"datum":1.24894},"y2":{"datum":0.95908}}},
{"data":{"name":"one"},"mark":{"type":"rule","color":"#2a2e39","strokeWidth":2},"encoding":{"x":{"datum":-0.667},"x2":{"datum":142.8},"y":{"datum":0.97635}}},
{"data":{"name":"w"},"mark":{"type":"rule","strokeWidth":1.6},"encoding":{"x":{"field":"i"},"y":{"field":"l"},"y2":{"field":"h"},"color":{"condition":{"test":"datum.c>=datum.o","value":"#26a69a"},"value":"#f55353"}}},
{"data":{"name":"w"},"mark":{"type":"bar","size":10,"strokeWidth":1,"orient":"vertical"},"encoding":{"x":{"field":"i"},"y":{"field":"o"},"y2":{"field":"c"},"color":{"condition":{"test":"datum.c>=datum.o","value":"#26a69a"},"value":"#f55353"},"stroke":{"condition":{"test":"datum.c>=datum.o","value":"#26a69a"},"value":"#f55353"}}},
{"data":{"name":"lv2"},"mark":{"type":"text","align":"right","baseline":"middle","dy":-17,"font":"Inter","fontSize":21.5,"color":"#2962ff"},"encoding":{"x":{"datum":130.4},"y":{"field":"p"},"text":{"field":"label"}}},
{"data":{"name":"lv2"},"mark":{"type":"bar","orient":"horizontal","size":37,"color":"#2962ff","cornerRadiusEnd":3},"encoding":{"x":{"datum":131.6},"x2":{"datum":141.97},"y":{"field":"p"}}},
{"data":{"name":"lv2"},"mark":{"type":"text","align":"left","baseline":"middle","font":"Inter","fontSize":27,"color":"#ffffff"},"encoding":{"x":{"datum":133.2},"y":{"field":"p"},"text":{"field":"tag"}}},
{"data":{"name":"one"},"mark":{"type":"text","align":"left","baseline":"middle","font":"Inter","fontSize":26.4,"color":"#b2b5be","text":"EURUSD · 1W · FXCM"},"encoding":{"x":{"datum":0.62},"y":{"datum":1.24043}}}
]},
{"width":1893,"height":1008,
"encoding":{"x":{"type":"quantitative","scale":{"domain":[-0.667,142.8],"nice":false,"zero":false},"axis":{"title":null,"orient":"bottom","offset":-60,"labelPadding":19,"labelFontWeight":{"condition":{"test":"datum.value==37","value":700},"value":400},"values":[15,37,58,78,100,122],"labelExpr":"datum.value==15?'Dec':datum.value==37?'2026':datum.value==58?'Feb':datum.value==78?'Mar':datum.value==100?'Apr':'May'"}},"y":{"type":"quantitative","scale":{"domain":[1.12031,1.22268],"nice":false,"zero":false},"axis":{"title":null,"orient":"right","offset":-149,"labelPadding":22,"format":".5f","values":[1.22,1.21,1.2,1.19,1.18,1.17,1.16,1.15,1.14,1.13]}}},
"layer":[
{"data":{"name":"lv3"},"mark":{"type":"rule","color":"#2962ff","strokeWidth":4},"encoding":{"x":{"datum":-0.667},"x2":{"datum":131.5},"y":{"field":"p"}}},
{"data":{"name":"one"},"mark":{"type":"rule","color":"#2a2e39","strokeWidth":2},"encoding":{"x":{"datum":131.5},"y":{"datum":1.22268},"y2":{"datum":1.12031}}},
{"data":{"name":"one"},"mark":{"type":"rule","color":"#2a2e39","strokeWidth":2},"encoding":{"x":{"datum":-0.667},"x2":{"datum":142.8},"y":{"datum":1.1264}}},
{"data":{"name":"d"},"mark":{"type":"rule","strokeWidth":1.6},"encoding":{"x":{"field":"i"},"y":{"field":"l"},"y2":{"field":"h"},"color":{"condition":{"test":"datum.c>=datum.o","value":"#26a69a"},"value":"#f55353"}}},
{"data":{"name":"d"},"mark":{"type":"bar","size":10,"strokeWidth":1,"orient":"vertical"},"encoding":{"x":{"field":"i"},"y":{"field":"o"},"y2":{"field":"c"},"color":{"condition":{"test":"datum.c>=datum.o","value":"#26a69a"},"value":"#f55353"},"stroke":{"condition":{"test":"datum.c>=datum.o","value":"#26a69a"},"value":"#f55353"}}},
{"data":{"name":"lv3"},"mark":{"type":"text","align":"right","baseline":"middle","dy":-17,"font":"Inter","fontSize":21.5,"color":"#2962ff"},"encoding":{"x":{"datum":130.4},"y":{"field":"p"},"text":{"field":"label"}}},
{"data":{"name":"lv3"},"transform":[{"filter":"datum.tag"}],"mark":{"type":"bar","orient":"horizontal","size":37,"color":"#2962ff","cornerRadiusEnd":3},"encoding":{"x":{"datum":131.6},"x2":{"datum":141.97},"y":{"field":"p"}}},
{"data":{"name":"lv3"},"transform":[{"filter":"datum.tag"}],"mark":{"type":"text","align":"left","baseline":"middle","font":"Inter","fontSize":27,"color":"#ffffff"},"encoding":{"x":{"datum":133.2},"y":{"field":"p"},"text":{"field":"tag"}}},
{"data":{"name":"one"},"mark":{"type":"text","align":"left","baseline":"middle","font":"Inter","fontSize":26.4,"color":"#b2b5be","text":"EURUSD · 1D · FXCM"},"encoding":{"x":{"datum":0.62},"y":{"datum":1.21947}}},
{"data":{"name":"one"},"mark":{"type":"point","shape":"square","filled":true,"opacity":1,"fill":"#131722","stroke":"#2962ff","strokeWidth":2.5,"size":676},"encoding":{"x":{"datum":118.25},"y":{"datum":1.20384}}},
{"data":{"name":"one"},"mark":{"type":"point","shape":"circle","filled":true,"opacity":1,"fill":"#0b0e14","stroke":"#f23645","strokeWidth":4,"size":2116},"encoding":{"x":{"datum":114},"y":{"datum":1.13494}}},
{"data":{"name":"one"},"mark":{"type":"point","shape":"circle","filled":true,"opacity":1,"fill":"#1b4d9e","size":1296},"encoding":{"x":{"datum":114},"y":{"datum":1.13494}}},
{"data":{"name":"one"},"mark":{"type":"point","filled":true,"opacity":1,"fill":"#ffd230","size":1296,"shape":"M-0.08 -0.78h0.16v0.16h-0.16zM0.27 -0.69h0.16v0.16h-0.16zM0.53 -0.43h0.16v0.16h-0.16zM0.62 -0.08h0.16v0.16h-0.16zM0.53 0.27h0.16v0.16h-0.16zM0.27 0.53h0.16v0.16h-0.16zM-0.08 0.62h0.16v0.16h-0.16zM-0.43 0.53h0.16v0.16h-0.16zM-0.69 0.27h0.16v0.16h-0.16zM-0.78 -0.08h0.16v0.16h-0.16zM-0.69 -0.43h0.16v0.16h-0.16zM-0.43 -0.69h0.16v0.16h-0.16z"},"encoding":{"x":{"datum":114},"y":{"datum":1.13494}}},
{"data":{"name":"one"},"mark":{"type":"point","shape":"circle","filled":true,"opacity":1,"fill":"#0b0e14","stroke":"#f23645","strokeWidth":4,"size":2116},"encoding":{"x":{"datum":114},"y":{"datum":1.12935}}},
{"data":{"name":"one"},"mark":{"type":"point","shape":"circle","filled":true,"opacity":1,"fill":"#f4f4f4","size":1296},"encoding":{"x":{"datum":114},"y":{"datum":1.12935}}},
{"data":{"name":"one"},"mark":{"type":"point","filled":true,"opacity":1,"fill":"#ef5350","size":1296,"shape":"M0 -0.72L0.7 -0.72A1 1 0 0 1 0.98 -0.2L0 -0.2ZM-0.98 0.2L0.98 0.2A1 1 0 0 1 0.75 0.66L-0.75 0.66A1 1 0 0 1 -0.98 0.2Z"},"encoding":{"x":{"datum":114},"y":{"datum":1.12935}}},
{"data":{"name":"one"},"mark":{"type":"point","filled":true,"opacity":1,"fill":"#2f6fd6","size":1296,"shape":"M-0.98 -0.05A1 1 0 0 1 -0.05 -0.98L-0.05 -0.05Z"},"encoding":{"x":{"datum":114},"y":{"datum":1.12935}}}
]}
]}
]}
